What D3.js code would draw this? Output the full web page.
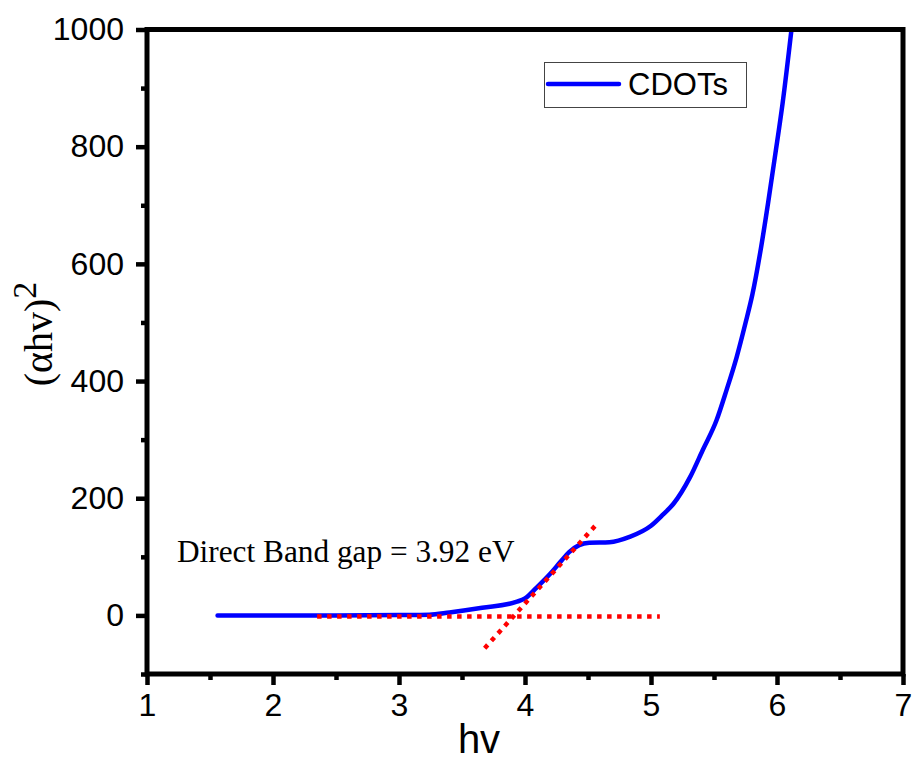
<!DOCTYPE html>
<html>
<head>
<meta charset="utf-8">
<script src="https://cdn.jsdelivr.net/npm/d3@7"></script>
<style>
  html, body { margin: 0; padding: 0; background: #fff; }
  svg { display: block; }
</style>
</head>
<body>
<svg id="chart" width="914" height="760"></svg>
<script>
// ---- data ----
const hv = [1.56, 2.0, 2.5, 3.0, 3.24, 3.4, 3.66, 3.93, 4.0, 4.09, 4.2, 4.28, 4.35, 4.43, 4.51, 4.67, 4.83, 5.0, 5.09, 5.18, 5.31, 5.41, 5.52, 5.6, 5.68, 5.75, 5.805, 5.875, 5.93, 5.985, 6.045, 6.115];
const ahv2 = [0, 0, 0, 0.5, 1, 5, 13, 23, 29, 47, 71, 91, 108, 120, 124, 125, 134, 153, 171, 191, 236, 282, 333, 385, 441, 499, 548, 630, 705, 785, 875, 1000];
const baselineX = [2.35, 5.07];
const baselineY = [-2, -2];
const tangentX = [3.68, 4.57];
const tangentY = [-56, 156];
const xTicks = [1, 2, 3, 4, 5, 6, 7];
const yTicks = [0, 200, 400, 600, 800, 1000];
const seriesName = "CDOTs";
const annotation = "Direct Band gap = 3.92 eV";

// ---- layout ----
const svg = d3.select("#chart");
const L = 147, R = 903, T = 29.5, B = 674;
const x = d3.scaleLinear().domain([1, 7]).range([L, R]);
const y = d3.scaleLinear().domain([-100, 1000]).range([B, T]);

const sans = "'Liberation Sans', Arial, sans-serif";
const serif = "'Liberation Serif', 'Times New Roman', serif";

svg.append("defs").append("clipPath").attr("id", "clip")
  .append("rect").attr("x", L).attr("y", T).attr("width", R - L).attr("height", B - T);

// curve
const line = d3.line().x(d => x(d[0])).y(d => y(d[1])).curve(d3.curveMonotoneX);
svg.append("path")
  .datum(d3.zip(hv, ahv2))
  .attr("clip-path", "url(#clip)")
  .attr("d", line)
  .attr("fill", "none")
  .attr("stroke", "#0000ff")
  .attr("stroke-width", 4.5)
  .attr("stroke-linejoin", "round")
  .attr("stroke-linecap", "round");

// red dotted fits
const straight = d3.line().x(d => x(d[0])).y(d => y(d[1]));
[[baselineX, baselineY], [tangentX, tangentY]].forEach(([xs, ys]) => {
  svg.append("path")
    .datum(d3.zip(xs, ys))
    .attr("d", straight)
    .attr("fill", "none")
    .attr("stroke", "#ff0000")
    .attr("stroke-width", 4.5)
    .attr("stroke-dasharray", "4.5 5.5");
});

// frame
svg.append("rect").attr("x", L).attr("y", T).attr("width", R - L).attr("height", B - T)
  .attr("fill", "none").attr("stroke", "#000").attr("stroke-width", 5);

// x axis
const xAxis = d3.axisBottom(x).tickValues(xTicks).tickFormat(d3.format("d")).tickSize(11).tickPadding(8);
const gx = svg.append("g").attr("transform", `translate(0,${B})`).call(xAxis);
gx.select(".domain").remove();
gx.selectAll(".tick line").attr("stroke", "#000").attr("stroke-width", 4.5);
gx.selectAll(".tick text").attr("font-family", sans).attr("font-size", 32).attr("fill", "#000");
const gxm = svg.append("g").attr("transform", `translate(0,${B})`)
  .call(d3.axisBottom(x).tickValues(d3.range(1.5, 7, 1)).tickSize(6).tickFormat(""));
gxm.select(".domain").remove();
gxm.selectAll(".tick line").attr("stroke", "#000").attr("stroke-width", 4.5);

// y axis
const yAxis = d3.axisLeft(y).tickValues(yTicks).tickFormat(d3.format("d")).tickSize(11).tickPadding(12);
const gy = svg.append("g").attr("transform", `translate(${L},0)`).call(yAxis);
gy.select(".domain").remove();
gy.selectAll(".tick line").attr("stroke", "#000").attr("stroke-width", 4.5);
gy.selectAll(".tick text").attr("font-family", sans).attr("font-size", 32).attr("fill", "#000");
const gym = svg.append("g").attr("transform", `translate(${L},0)`)
  .call(d3.axisLeft(y).tickValues(d3.range(-100, 1001, 200)).tickSize(6).tickFormat(""));
gym.select(".domain").remove();
gym.selectAll(".tick line").attr("stroke", "#000").attr("stroke-width", 4.5);

// axis titles
svg.append("text").attr("x", 479).attr("y", 753).attr("text-anchor", "middle")
  .attr("font-family", sans).attr("font-size", 40).attr("fill", "#000").text("hv");

const yt = svg.append("text")
  .attr("transform", "translate(52,334) rotate(-90)")
  .attr("text-anchor", "middle")
  .attr("font-family", serif).attr("font-size", 40).attr("fill", "#000");
yt.append("tspan").text("(αhv)");
yt.append("tspan").attr("dy", -16).attr("font-size", 34).text("2");

// annotation
svg.append("text").attr("x", 177).attr("y", 562)
  .attr("font-family", serif).attr("font-size", 31.3).attr("fill", "#000").text(annotation);

// legend
svg.append("rect").attr("x", 544.5).attr("y", 62.5).attr("width", 202).attr("height", 45)
  .attr("fill", "#fff").attr("stroke", "#444").attr("stroke-width", 1);
svg.append("line").attr("x1", 548).attr("x2", 619).attr("y1", 84).attr("y2", 84)
  .attr("stroke", "#0000ff").attr("stroke-width", 4.5).attr("stroke-linecap", "round");
svg.append("text").attr("x", 628).attr("y", 95)
  .attr("font-family", sans).attr("font-size", 31).attr("fill", "#000").text(seriesName);
</script>
</body>
</html>
